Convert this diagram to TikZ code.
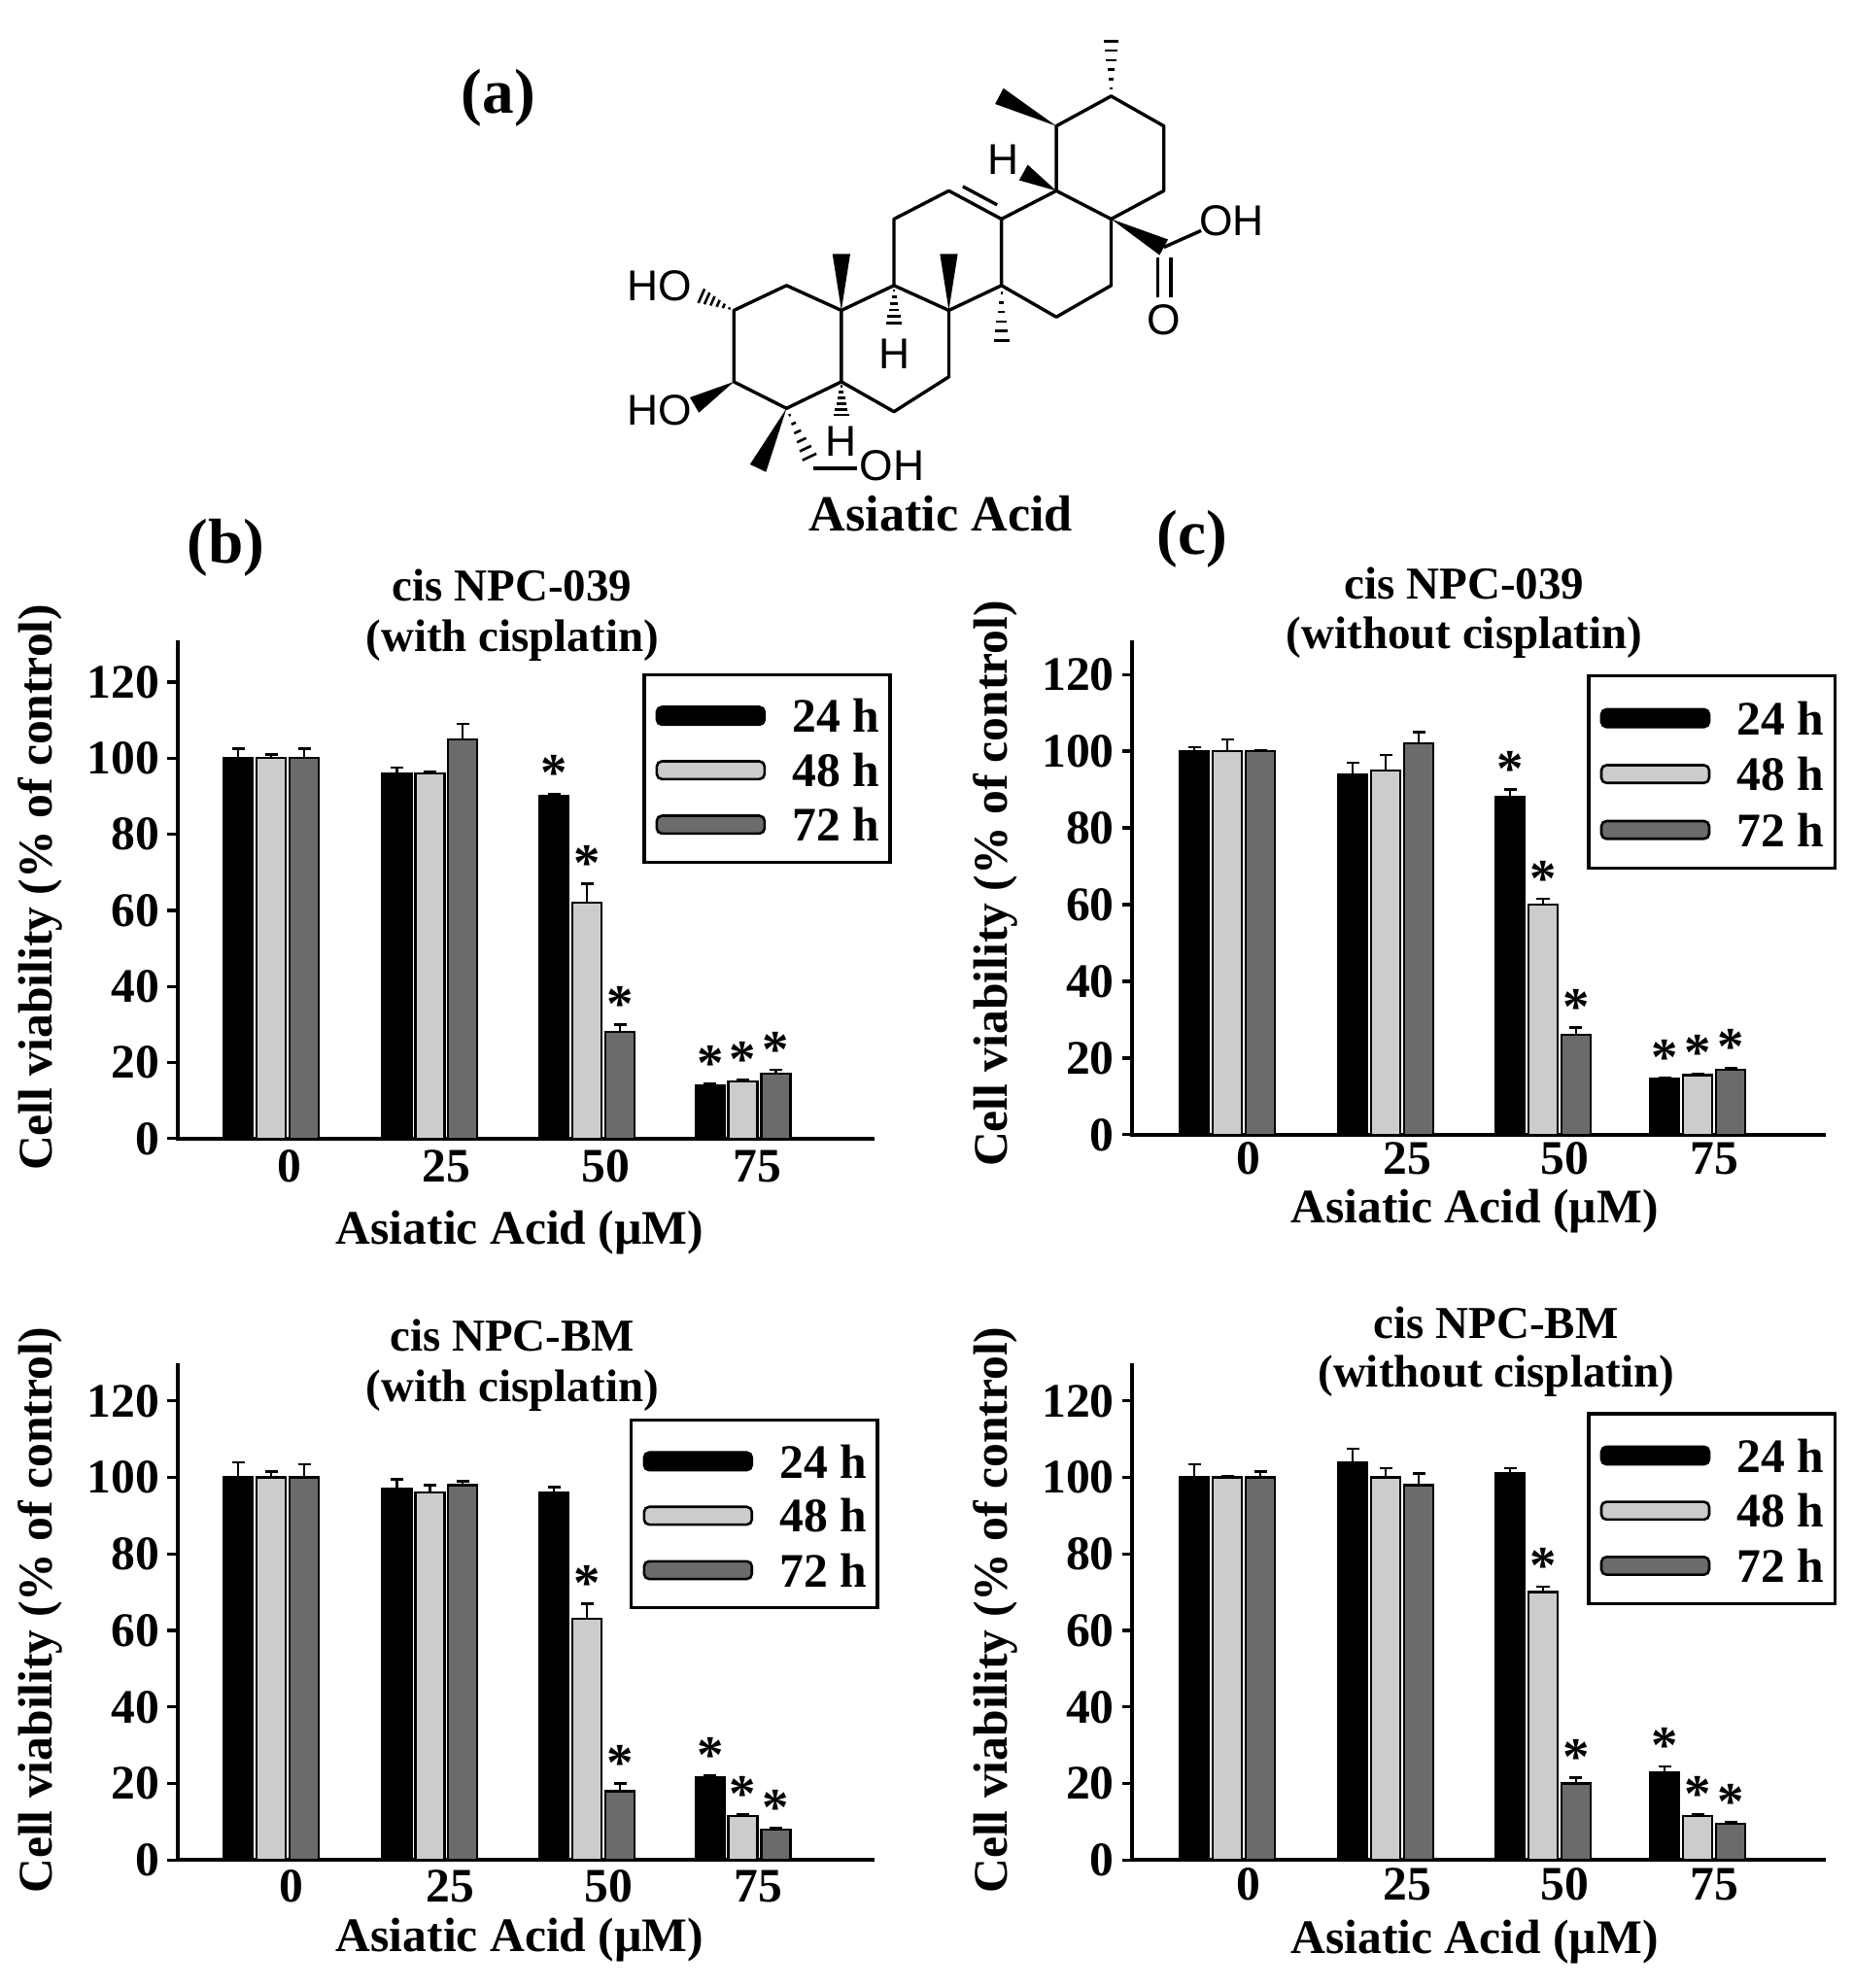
\documentclass[tikz,border=0pt]{standalone}
\usepackage{fontspec}
\setmainfont{Liberation Serif}
\newfontfamily\chemsf{Liberation Sans}
\usetikzlibrary{calc}
\definecolor{bc0}{gray}{0.0}
\definecolor{bc1}{gray}{0.80}
\definecolor{bc2}{gray}{0.42}
\tikzset{
 ticklab/.style={font=\bfseries\fontsize{38}{40}\selectfont,inner sep=0pt},
 ttl/.style={font=\bfseries\fontsize{36}{40}\selectfont,inner sep=0pt},
 axlab/.style={font=\bfseries\fontsize{38}{40}\selectfont,inner sep=0pt},
 plet/.style={font=\bfseries\fontsize{50}{54}\selectfont,inner sep=0pt},
 astk/.style={font=\bfseries\fontsize{42}{44}\selectfont,inner sep=0pt,anchor=south},
 leglab/.style={font=\bfseries\fontsize{38}{40}\selectfont,inner sep=0pt,anchor=east},
 chl/.style={font=\chemsf\fontsize{34}{36}\selectfont,inner sep=0pt},
 bond/.style={line width=2.6pt},
}
\newcommand\wdg[2]{\fill ($(#1)$) -- ($(#2)!7pt!90:(#1)$) -- ($(#2)!7pt!-90:(#1)$) -- cycle;}
\newcommand\hsh[2]{\foreach \t in {0.12,0.27,0.42,0.57,0.72,0.87}{\draw[line width=2pt] ($($(#1)!\t!(#2)$)!{\t*7pt}!90:(#2)$) -- ($($(#1)!\t!(#2)$)!{\t*7pt}!-90:(#2)$);}}
\newcommand\drawbars[3]{\foreach \cx/\k/\v/\e/\st in {#3}{%
 \pgfmathsetmacro\xx{\cx+(\k-1)*26}%
 \pgfmathsetmacro\yt{#1-#2*\v}%
 \pgfmathsetmacro\ye{#1-#2*(\v+\e)}%
 \draw[line width=1.8pt,fill=bc\k] (\xx-11.5,#1) rectangle (\xx+11.5,\yt);
 \draw[line width=1.8pt] (\xx,\yt) -- (\xx,\ye) (\xx-5,\ye) -- (\xx+5,\ye);
 \ifnum\st=1 \node[astk] at (\xx,\ye-2) {*};\fi}}
\newcommand\drawaxes[5]{%
 \draw[line width=3pt] (#1,#5) -- (#1,#2) -- (#4,#2);
 \foreach \t in {0,20,...,120}{\pgfmathsetmacro\yy{#2-#3*\t}
  \draw[line width=2.5pt] (#1-8,\yy) -- (#1,\yy);
  \node[ticklab,anchor=east] at (#1-14,\yy) {\t};}}
\newcommand\legendbox[3]{%
 \draw[line width=2.5pt] (#1,#2) rectangle (#1+194,#3);
 \pgfmathsetmacro\ya{#2+(#3-#2)*0.22}\pgfmathsetmacro\yb{#2+(#3-#2)*0.51}\pgfmathsetmacro\yc{#2+(#3-#2)*0.80}
 \foreach \yy/\k/\lab in {\ya/0/24 h,\yb/1/48 h,\yc/2/72 h}{
  \draw[line width=2pt,fill=bc\k,rounded corners=4pt] (#1+10,\yy-7) rectangle (#1+95,\yy+7);
  \node[leglab] at (#1+186,\yy) {\lab};}}
\begin{document}
\begin{tikzpicture}[x=1pt,y=-1pt]
\useasboundingbox (0,0) rectangle (1462,1568);
\fill[white] (0,0) rectangle (1462,1568);
% ---------- (a) structure
\node[plet] (la) at (393,77) {(a)};
\node[font=\bfseries\fontsize{40}{44}\selectfont,inner sep=0pt] (aname) at (742,405) {Asiatic Acid};
\begin{scope}[xshift=475pt,yshift=-7.7pt]
\begin{scope}[x=0.346pt,y=-0.262pt]
\coordinate (C1) at (420,830); \coordinate (C2) at (300,905); \coordinate (C3) at (300,1120);
\coordinate (C4) at (420,1200); \coordinate (C5) at (545,1120); \coordinate (C10) at (545,905);
\coordinate (C9) at (665,830); \coordinate (C8) at (790,905); \coordinate (C7) at (790,1105);
\coordinate (C6) at (665,1210); \coordinate (C11) at (665,630); \coordinate (C12) at (790,545);
\coordinate (C13) at (910,630); \coordinate (C14) at (910,830); \coordinate (C18) at (1035,545);
\coordinate (C17) at (1160,630); \coordinate (C16) at (1160,830); \coordinate (C15) at (1035,925);
\coordinate (C19) at (1035,350); \coordinate (C20) at (1160,260); \coordinate (C21) at (1280,350);
\coordinate (C22) at (1280,545); \coordinate (C28) at (1280,715);
\draw[bond,line join=round] (C1)--(C2)--(C3)--(C4)--(C5)--(C10)--cycle;
\draw[bond,line join=round] (C10)--(C9)--(C8)--(C7)--(C6)--(C5);
\draw[bond,line join=round] (C9)--(C11)--(C12)--(C13)--(C14)--(C8);
\draw[bond] ($(C12)!0.2!(C13)+(8,-30)$) -- ($(C12)!0.85!(C13)+(8,-30)$);
\draw[bond,line join=round] (C13)--(C18)--(C17)--(C16)--(C15)--(C14);
\draw[bond,line join=round] (C18)--(C19)--(C20)--(C21)--(C22)--(C17);
\coordinate (m20) at (1160,70); \hsh{C20}{m20}
\coordinate (m19) at (905,260); \wdg{C19}{m19}
\coordinate (h18) at (960,490); \wdg{C18}{h18}
\node[chl] (H18) at (915,450) {H};
\wdg{C17}{C28}
\draw[bond] (C28) -- (1365,665);
\node[chl] (OH1) at (1435,635) {OH};
\draw[bond] (1266,745) -- (1266,865) (1296,745) -- (1296,865);
\node[chl] (O1) at (1280,935) {O};
\coordinate (m14) at (910,1020); \hsh{C14}{m14}
\coordinate (m8) at (790,735); \wdg{C8}{m8}
\coordinate (m10) at (545,735); \wdg{C10}{m10}
\coordinate (h9) at (665,960); \hsh{C9}{h9}
\node[chl] (H9) at (665,1035) {H};
\coordinate (h5) at (545,1235); \hsh{C5}{h5}
\node[chl] (H5) at (545,1298) {H};
\coordinate (m4) at (355,1380); \wdg{C4}{m4}
\coordinate (c23) at (480,1368); \hsh{C4}{c23}
\draw[bond] (480,1380) -- (580,1380);
\node[chl] (OH4) at (660,1372) {OH};
\coordinate (o2) at (215,855); \hsh{C2}{o2}
\node[chl] (HO2) at (130,830) {HO};
\coordinate (o3) at (210,1190); \wdg{C3}{o3}
\node[chl] (HO3) at (130,1205) {HO};
\end{scope}
\end{scope}
% ---------- (b) top
\node[plet] (lb) at (178,432) {(b)};
\node[ttl] (t1a) at (404,462) {cis NPC-039};
\node[ttl] (t1b) at (404,505) {(with cisplatin)};
\drawaxes{140}{898}{3.0}{690}{505}
\drawbars{898}{3.0}{214/0/100/2.5/0,214/1/100/1/0,214/2/100/2.5/0,
 339/0/96/1.5/0,339/1/96/0.5/0,339/2/105/4/0,
 463/0/90/0.7/1,463/1/62/5/1,463/2/28/2/1,
 586/0/14/0.5/1,586/1/15/0.5/1,586/2/17/1/1}
\legendbox{508}{532}{680}
\foreach \cx/\l in {228/0,352/25,478/50,597/75}{\node[ticklab] at (\cx,920) {\l};}
\node[axlab] (xb1) at (410,972) {Asiatic Acid (µM)};
\node[axlab,rotate=90] (yb1) at (32,700) {Cell viability (\% of control)};
% ---------- (c) top
\node[plet] (lc) at (940,425) {(c)};
\node[ttl] (t2a) at (1155,460) {cis NPC-039};
\node[ttl] (t2b) at (1155,503) {(without cisplatin)};
\drawaxes{893}{895}{3.025}{1440}{505}
\drawbars{895}{3.025}{968/0/100/1/0,968/1/100/3/0,968/2/100/0.3/0,
 1093/0/94/3/0,1093/1/95/4/0,1093/2/102/3/0,
 1217/0/88/2/1,1217/1/60/1.5/1,1217/2/26/2/1,
 1339/0/14.5/0.3/1,1339/1/15.5/0.5/1,1339/2/17/0.5/1}
\legendbox{1253}{533}{685}
\foreach \cx/\l in {985/0,1110/25,1234/50,1352/75}{\node[ticklab] at (\cx,914) {\l};}
\node[axlab] (xc1) at (1163,955) {Asiatic Acid (µM)};
\node[axlab,rotate=90] (yc1) at (785,697) {Cell viability (\% of control)};
% ---------- (b) bottom
\node[ttl] (t3a) at (404,1053) {cis NPC-BM};
\node[ttl] (t3b) at (404,1097) {(with cisplatin)};
\drawaxes{140}{1467}{3.017}{690}{1075}
\drawbars{1467}{3.017}{214/0/100/4/0,214/1/100/1.5/0,214/2/100/3.5/0,
 339/0/97/2.5/0,339/1/96/2/0,339/2/98/1/0,
 463/0/96/1.5/0,463/1/63/4/1,463/2/18/2/1,
 586/0/21.5/0.5/1,586/1/11.5/0.5/1,586/2/8/0.3/1}
\legendbox{498}{1120}{1268}
\foreach \cx/\l in {230/0,355/25,480/50,598/75}{\node[ticklab] at (\cx,1488) {\l};}
\node[axlab] (xb2) at (410,1530) {Asiatic Acid (µM)};
\node[axlab,rotate=90] (yb2) at (32,1270) {Cell viability (\% of control)};
% ---------- (c) bottom
\node[ttl] (t4a) at (1180,1043) {cis NPC-BM};
\node[ttl] (t4b) at (1180,1085) {(without cisplatin)};
\drawaxes{893}{1467}{3.017}{1440}{1075}
\drawbars{1467}{3.017}{968/0/100/3.5/0,968/1/100/0.3/0,968/2/100/1.5/0,
 1093/0/104/3.5/0,1093/1/100/2.5/0,1093/2/98/3/0,
 1217/0/101/1.5/0,1217/1/70/1.5/1,1217/2/20/1.5/1,
 1339/0/23/1.5/1,1339/1/11.5/0.5/1,1339/2/9.5/0.3/1}
\legendbox{1253}{1115}{1265}
\foreach \cx/\l in {985/0,1110/25,1234/50,1352/75}{\node[ticklab] at (\cx,1486) {\l};}
\node[axlab] (xc2) at (1163,1532) {Asiatic Acid (µM)};
\node[axlab,rotate=90] (yc2) at (785,1270) {Cell viability (\% of control)};
\end{tikzpicture}
\end{document}
